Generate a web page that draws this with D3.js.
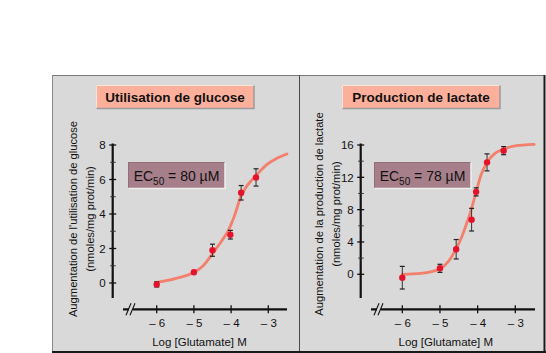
<!DOCTYPE html>
<html>
<head>
<meta charset="utf-8">
<script src="https://cdn.jsdelivr.net/npm/d3@7"></script>
<style>
  body { margin: 0; background: #fff; }
  svg { display: block; font-family: "Liberation Sans", Arial, sans-serif; }
</style>
</head>
<body>
<div id="chart"></div>
<script>
// values
const glucoseX = [-6, -5, -4.5, -4.02, -3.73, -3.33];
const glucoseY = [-0.08, 0.62, 1.9, 2.8, 5.23, 6.12];
const glucoseErr = [0.15, 0, 0.35, 0.25, 0.42, 0.5];
const glucoseCurveX = [-6, -5.5, -5, -4.75, -4.5, -4.25, -4.1, -4, -3.9, -3.75, -3.6, -3.45, -3.3, -3.05, -2.78, -2.5];
const glucoseCurveY = [0.03, 0.25, 0.62, 1.0, 1.7, 2.45, 2.95, 3.4, 3.95, 4.95, 5.55, 5.95, 6.3, 6.85, 7.22, 7.48];

const lactateX = [-6, -5, -4.57, -4.16, -4.04, -3.75, -3.31];
const lactateY = [-0.42, 0.74, 3.1, 6.76, 10.2, 13.85, 15.3];
const lactateErr = [1.4, 0.5, 1.2, 1.4, 0.5, 1.05, 0.5];
const lactateCurveX = [-6, -5.5, -5, -4.78, -4.58, -4.42, -4.29, -4.16, -4.04, -3.91, -3.74, -3.54, -3.32, -3.01, -2.5];
const lactateCurveY = [0, 0.12, 0.7, 1.56, 3.09, 4.65, 6.31, 8.17, 10.2, 12.29, 13.94, 14.97, 15.47, 15.88, 16.08];

const xTicks = [-6, -5, -4, -3];
const glucoseTicks = [0, 2, 4, 6, 8];
const glucoseMinor = [1, 3, 5, 7];
const lactateTicks = [0, 4, 8, 12, 16];
const lactateMinor = [2, 6, 10, 14];

const panels = [
  {x0: 52, title: "Utilisation de glucose", ec: "80",
   yTitle: "Augmentation de l'utilisation de glucose",
   px: glucoseX, py: glucoseY, err: glucoseErr, cx: glucoseCurveX, cy: glucoseCurveY,
   yMax: 8, ticks: glucoseTicks, minor: glucoseMinor, zeroY: 283,
   axisX: 112.7, xRange: [156.7, 268.3], xLine: [123, 287], titleX: 96, ecX: 128, yTitleX: 77, yTitleY: 219},
  {x0: 299, title: "Production de lactate", ec: "78",
   yTitle: "Augmentation de la production de lactate",
   px: lactateX, py: lactateY, err: lactateErr, cx: lactateCurveX, cy: lactateCurveY,
   yMax: 16, ticks: lactateTicks, minor: lactateMinor, zeroY: 274.3,
   axisX: 360.7, xRange: [402.3, 515.3], xLine: [371, 535], titleX: 342, ecX: 374, yTitleX: 323, yTitleY: 214}
];

const width = 546, height = 353;

const svg = d3.select("#chart").append("svg")
    .attr("width", width)
    .attr("height", height);

// frame
svg.append("rect")
    .attr("x", 52).attr("y", 75)
    .attr("width", 492).attr("height", 277)
    .attr("fill", "#d9d9d9");
svg.append("line").attr("x1", 52).attr("x2", 545).attr("y1", 75.5).attr("y2", 75.5)
    .attr("stroke", "#7a7a7a");
svg.append("line").attr("x1", 52.5).attr("x2", 52.5).attr("y1", 75).attr("y2", 353)
    .attr("stroke", "#8a8a8a");
svg.append("line").attr("x1", 299.5).attr("x2", 299.5).attr("y1", 75).attr("y2", 353)
    .attr("stroke", "#4a4a4a");
svg.append("line").attr("x1", 544.5).attr("x2", 544.5).attr("y1", 75).attr("y2", 353)
    .attr("stroke", "#1a1a1a").attr("stroke-width", 2);
svg.append("line").attr("x1", 52).attr("x2", 546).attr("y1", 352).attr("y2", 352)
    .attr("stroke", "#1a1a1a").attr("stroke-width", 2);

panels.forEach(p => {
  const g = svg.append("g");

  const x = d3.scaleLinear().domain([-6, -3]).range(p.xRange);
  const y = d3.scaleLinear().domain([0, p.yMax]).range([p.zeroY, 145]);
  const axisX = p.axisX, axisBottom = 298, xAxisY = 309.3;

  // title box
  const tb = g.append("g").attr("transform", `translate(${p.titleX},85)`);
  tb.append("rect").attr("width", 158).attr("height", 23).attr("fill", "#fcb09c");
  tb.append("path").attr("d", "M0.5,23V0.5H158").attr("fill", "none").attr("stroke", "#fde3da");
  tb.append("path").attr("d", "M158,0.5V23.5H0.5").attr("fill", "none").attr("stroke", "#9b9b9b").attr("stroke-width", 1.5);
  tb.append("text").attr("x", 79).attr("y", 17)
      .attr("text-anchor", "middle")
      .attr("font-size", 13.5).attr("font-weight", "bold").attr("fill", "#111")
      .text(p.title);

  // EC50 box
  const eb = g.append("g").attr("transform", `translate(${p.ecX},162)`);
  eb.append("rect").attr("width", 97).attr("height", 26).attr("fill", "#a67f8a");
  eb.append("path").attr("d", "M0.5,26V0.5H97").attr("fill", "none").attr("stroke", "#8f7078");
  eb.append("path").attr("d", "M97,0.5V26.5H0.5").attr("fill", "none").attr("stroke", "#efefef").attr("stroke-width", 1.5);
  const et = eb.append("text").attr("x", 48.5).attr("y", 19)
      .attr("text-anchor", "middle").attr("font-size", 14).attr("fill", "#111");
  et.append("tspan").text("EC");
  et.append("tspan").attr("font-size", 10).attr("dy", 4).text("50");
  et.append("tspan").attr("dy", -4).text(" = " + p.ec + " \u00b5M");

  // y axis
  const yAxis = d3.axisLeft(y).tickValues(p.ticks).tickSize(0).tickPadding(7).tickFormat(d3.format("d"));
  const ya = g.append("g").attr("transform", `translate(${axisX},0)`).call(yAxis);
  ya.select(".domain").remove();
  ya.selectAll("text").attr("font-size", 11.5).attr("fill", "#111")
      .attr("font-family", "Liberation Sans, Arial, sans-serif");
  g.append("line").attr("x1", axisX).attr("x2", axisX).attr("y1", y(p.yMax) - 1.5).attr("y2", axisBottom)
      .attr("stroke", "#111").attr("stroke-width", 2.2);
  g.selectAll(".major").data(p.ticks).join("line")
      .attr("x1", axisX - 3.5).attr("x2", axisX + 3.5)
      .attr("y1", d => y(d)).attr("y2", d => y(d))
      .attr("stroke", "#111").attr("stroke-width", 1.3);
  g.selectAll(".minor").data(p.minor).join("line")
      .attr("x1", axisX - 2.5).attr("x2", axisX + 3)
      .attr("y1", d => y(d)).attr("y2", d => y(d))
      .attr("stroke", "#333").attr("stroke-width", 1);

  // x axis
  const xAxis = d3.axisBottom(x).tickValues(xTicks).tickSize(0).tickPadding(10)
      .tickFormat(d => "\u2013 " + Math.abs(d));
  const xa = g.append("g").attr("transform", `translate(0,${xAxisY})`).call(xAxis);
  xa.select(".domain").remove();
  xa.selectAll("text").attr("font-size", 11.5).attr("fill", "#111")
      .attr("font-family", "Liberation Sans, Arial, sans-serif");
  g.append("line").attr("x1", p.xLine[0]).attr("x2", p.xLine[1]).attr("y1", xAxisY).attr("y2", xAxisY)
      .attr("stroke", "#111").attr("stroke-width", 2.2);
  g.selectAll(".xt").data(xTicks).join("line")
      .attr("x1", d => x(d)).attr("x2", d => x(d))
      .attr("y1", xAxisY - 4).attr("y2", xAxisY + 4)
      .attr("stroke", "#111").attr("stroke-width", 1.3);
  // axis break
  const bx = p.xLine[0] + 6;
  g.append("rect").attr("x", bx).attr("y", xAxisY - 2).attr("width", 4).attr("height", 4).attr("fill", "#d9d9d9");
  [bx - 0.5, bx + 3.5].forEach(cx => {
    g.append("line")
        .attr("x1", cx - 2.5).attr("x2", cx + 2.5)
        .attr("y1", xAxisY + 6).attr("y2", xAxisY - 6)
        .attr("stroke", "#111").attr("stroke-width", 1.1);
  });

  // axis titles
  g.append("text").attr("x", (p.xRange[0] + p.xRange[1]) / 2 - 13).attr("y", 346)
      .attr("text-anchor", "middle").attr("font-size", 11.5).attr("fill", "#111")
      .text("Log [Glutamate] M");
  const yt = g.append("text")
      .attr("transform", `translate(${p.yTitleX},${p.yTitleY}) rotate(-90)`)
      .attr("text-anchor", "middle").attr("font-size", 11.2).attr("fill", "#111");
  yt.append("tspan").attr("x", 0).attr("y", 0).text(p.yTitle);
  yt.append("tspan").attr("x", 0).attr("y", 16.5).text("(nmoles/mg prot/min)");

  // fitted curve
  const line = d3.line()
      .x(d => x(d[0])).y(d => y(d[1]))
      .curve(d3.curveMonotoneX);
  g.append("path")
      .datum(p.cx.map((v, i) => [v, p.cy[i]]))
      .attr("d", line)
      .attr("fill", "none").attr("stroke", "#f47f6c")
      .attr("stroke-width", 2.8).attr("stroke-linecap", "round");

  // data points with error bars
  const pts = p.px.map((v, i) => ({x: v, y: p.py[i], e: p.err[i]}));
  const eg = g.selectAll(".err").data(pts.filter(d => d.e > 0)).join("g");
  eg.append("line")
      .attr("x1", d => x(d.x)).attr("x2", d => x(d.x))
      .attr("y1", d => y(d.y - d.e)).attr("y2", d => y(d.y + d.e))
      .attr("stroke", "#333").attr("stroke-width", 1);
  eg.append("line")
      .attr("x1", d => x(d.x) - 2.5).attr("x2", d => x(d.x) + 2.5)
      .attr("y1", d => y(d.y - d.e)).attr("y2", d => y(d.y - d.e))
      .attr("stroke", "#222").attr("stroke-width", 1.2);
  eg.append("line")
      .attr("x1", d => x(d.x) - 2.5).attr("x2", d => x(d.x) + 2.5)
      .attr("y1", d => y(d.y + d.e)).attr("y2", d => y(d.y + d.e))
      .attr("stroke", "#222").attr("stroke-width", 1.2);
  g.selectAll(".pt").data(pts).join("circle")
      .attr("cx", d => x(d.x)).attr("cy", d => y(d.y))
      .attr("r", 3.2).attr("fill", "#e3132c");
});
</script>
</body>
</html>
